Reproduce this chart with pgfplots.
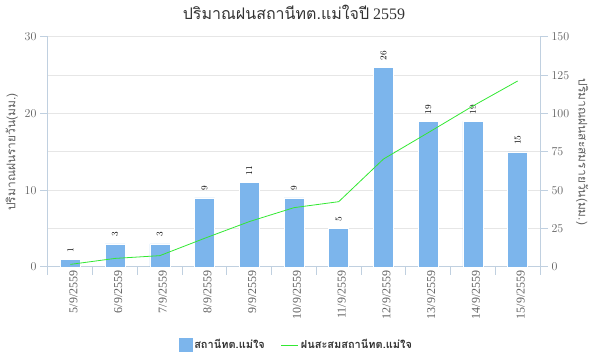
\documentclass[border=0pt]{standalone}
\usepackage{pgfplots}
\pgfplotsset{compat=1.18}
\usepackage{fontspec}
\setmainfont{Liberation Serif}
\newfontfamily\thai[Script=Thai]{Loma}
\definecolor{barcol}{HTML}{7CB5EC}
\definecolor{linecol}{HTML}{33E833}
\definecolor{axcol}{HTML}{C0D0E0}
\definecolor{gridcol}{HTML}{E6E6E6}
\definecolor{labcol}{HTML}{606060}
\definecolor{txtcol}{HTML}{333333}
\begin{document}
\begin{tikzpicture}
\path[use as bounding box] (-48pt,-88pt) rectangle (549pt,267pt);
\begin{axis}[
  scale only axis, width=492pt, height=230pt,
  xmin=-0.5, xmax=10.5, ymin=0, ymax=30,
  axis x line*=bottom, axis y line*=left,
  axis line style={-, axcol, line width=1pt},
  tick align=outside, major tick length=8pt, minor tick length=0pt,
  tick style={axcol, line width=1pt},
  xtick={-0.5,0.5,...,10.5}, xticklabels={},
  extra x ticks={0,1,2,3,4,5,6,7,8,9,10},
  extra x tick labels={5/9/2559,6/9/2559,7/9/2559,8/9/2559,9/9/2559,10/9/2559,11/9/2559,12/9/2559,13/9/2559,14/9/2559,15/9/2559},
  extra x tick style={major tick length=0pt},
  xticklabel style={rotate=90, anchor=east, yshift=-3pt, font=\fontsize{12}{12}\selectfont, text=labcol},
  ytick={0,10,20,30}, minor ytick={5,15,25},
  ymajorgrids, yminorgrids,
  major grid style={gridcol, line width=1pt}, minor grid style={gridcol, line width=1pt},
  yticklabel style={font=\fontsize{12}{12}\selectfont, text=labcol},
  ylabel={\thai ปริมาณฝนรายวัน(มม.)},
  ylabel style={font=\thai\fontsize{12}{12}\selectfont, text=labcol},
  title={{\thai ปริมาณฝนสถานีทต.แม่ใจปี} 2559},
  title style={font=\fontsize{16}{16}\selectfont, text=txtcol, yshift=8pt},
  clip=false,
]
\addplot[ybar, bar width=20pt, fill=barcol, draw=white, line width=0.5pt,
  nodes near coords,
  nodes near coords style={rotate=90, anchor=west, inner xsep=7pt, text=black, font=\bfseries\fontsize{9}{9}\selectfont}]
coordinates {(0,1) (1,3) (2,3) (3,9) (4,11) (5,9) (6,5) (7,26) (8,19) (9,19) (10,15)};
\end{axis}
\begin{axis}[
  scale only axis, width=492pt, height=230pt,
  xmin=-0.5, xmax=10.5, ymin=0, ymax=150,
  axis y line*=right, axis x line=none,
  axis line style={-, axcol, line width=1pt},
  tick align=outside, major tick length=8pt,
  tick style={axcol, line width=1pt},
  ytick={0,25,50,75,100,125,150},
  yticklabel style={font=\fontsize{12}{12}\selectfont, text=labcol},
  ylabel={\thai ปริมาณฝนสะสมรายวัน(มม.)},
  ylabel style={font=\thai\fontsize{12}{12}\selectfont, text=labcol, rotate=180},
  legend style={at={(0.505,-0.339)}, anchor=center, draw=none, fill=none,
    legend columns=2, font=\thai\bfseries\fontsize{11}{11}\selectfont, text=txtcol,
    /tikz/every even column/.append style={column sep=14pt}},
]
\addlegendimage{legend image code/.code={\fill[barcol] (0pt,-6pt) rectangle (13pt,7pt);}}
\addlegendentry{สถานีทต.แม่ใจ}
\addplot[linecol, line width=0.8pt] coordinates {(0,1.7) (1,5.6) (2,7.4) (3,18.7) (4,29.6) (5,38.7) (6,42.6) (7,70.4) (8,87.6) (9,105) (10,121.3)};
\addlegendentry{ฝนสะสมสถานีทต.แม่ใจ}
\end{axis}
\end{tikzpicture}
\end{document}
